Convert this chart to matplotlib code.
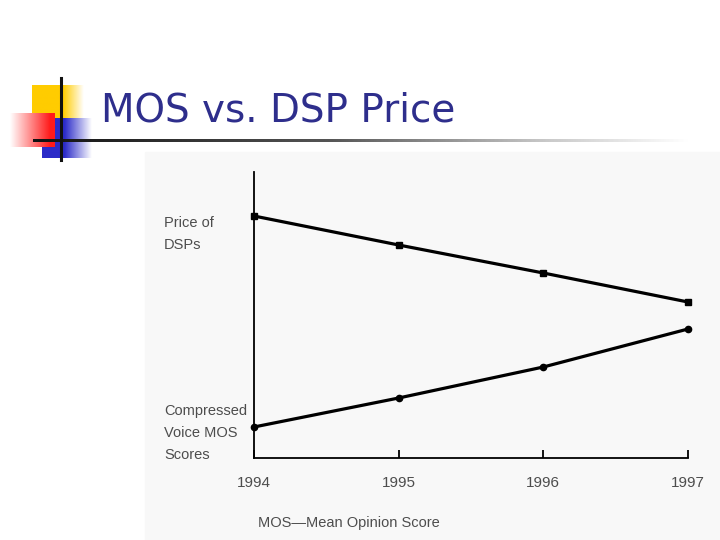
import matplotlib
matplotlib.use("Agg")
import matplotlib.pyplot as plt
import numpy as np
from matplotlib.colors import LinearSegmentedColormap

# chart data (relative heights above the time axis)
years = [1994, 1995, 1996, 1997]
price_dsp = [242, 213, 185, 156]
mos_scores = [31, 60, 91, 129]
year_labels = ["1994", "1995", "1996", "1997"]

W, H = 720, 540
fig = plt.figure(figsize=(7.2, 5.4), dpi=100)
fig.patch.set_facecolor("white")

# overlay in pixel coordinates for the slide decoration
deco = fig.add_axes([0, 0, 1, 1])
deco.set_xlim(0, W)
deco.set_ylim(H, 0)
deco.axis("off")

# light panel behind the chart picture
deco.add_patch(plt.Rectangle((145, 152), 575, 388, color="#f8f8f8", zorder=0))

def hgrad(c_left, c_right, x0, x1, y0, y1, stops=(0.0, 1.0), z=1):
    pts = [(0.0, c_left)]
    if stops[0] > 0:
        pts.append((stops[0], c_left))
    pts.append((stops[1], c_right))
    if stops[1] < 1:
        pts.append((1.0, c_right))
    cmap = LinearSegmentedColormap.from_list("g", pts)
    g = np.linspace(0, 1, 200)[None, :]
    deco.imshow(g, cmap=cmap, extent=(x0, x1, y1, y0), aspect="auto", zorder=z, interpolation="bilinear")

hgrad("#ffcc00", "#ffffff", 32, 84, 85, 120, stops=(0.6, 1.0), z=1)
hgrad("#2b2bc8", "#ffffff", 42, 92, 118, 158, stops=(0.45, 1.0), z=2)
hgrad("#ffffff", "#ff1a1a", 10, 55, 113, 147, stops=(0.0, 0.9), z=3)

# title rule fading to the right
rule = LinearSegmentedColormap.from_list("r", [(0, "#111111"), (0.45, "#555555"), (0.78, "#c8c8c8"), (1, "#ffffff")])
deco.imshow(np.linspace(0, 1, 400)[None, :], cmap=rule, extent=(33, 690, 142.5, 139.5),
            aspect="auto", zorder=4, interpolation="bilinear")
deco.plot([61, 61], [78, 160], color="#111111", lw=2.2, zorder=5)

fig.text(101 / W, 1 - 111 / H, "MOS vs. DSP Price", color="#2e2e8c",
         fontsize=28, family="DejaVu Sans", va="center", ha="left")

# the chart itself
ax = fig.add_axes([254 / W, (H - 458) / H, 434 / W, 286 / H])
ax.set_facecolor("none")
ax.plot(years, price_dsp, color="black", lw=2.3, marker="s", ms=4.5, clip_on=False)
ax.plot(years, mos_scores, color="black", lw=2.3, marker="o", ms=4.5, clip_on=False)
ax.set_xlim(1994, 1997)
ax.set_ylim(0, 286)
for s in ["top", "right"]:
    ax.spines[s].set_visible(False)
for s in ["left", "bottom"]:
    ax.spines[s].set_linewidth(1.3)
ax.set_yticks([])
ax.set_xticks(years)
ax.set_xticklabels(year_labels)
narrow = ["Liberation Sans", "DejaVu Sans"]
ax.tick_params(axis="x", direction="in", length=6, width=1.3, pad=13,
               labelsize=11, labelcolor="#4d4d4d")
for lab in ax.get_xticklabels():
    lab.set_family(narrow)

txt = dict(color="#4d4d4d", fontsize=10.5, family=narrow, ha="left", va="center", linespacing=1.75)
fig.text(164 / W, 1 - 234 / H, "Price of\nDSPs", **txt)
fig.text(164 / W, 1 - 433 / H, "Compressed\nVoice MOS\nScores", **txt)
fig.text(258 / W, 1 - 523 / H, "MOS\u2014Mean Opinion Score", **txt)

fig.savefig("out.png", dpi=100)
